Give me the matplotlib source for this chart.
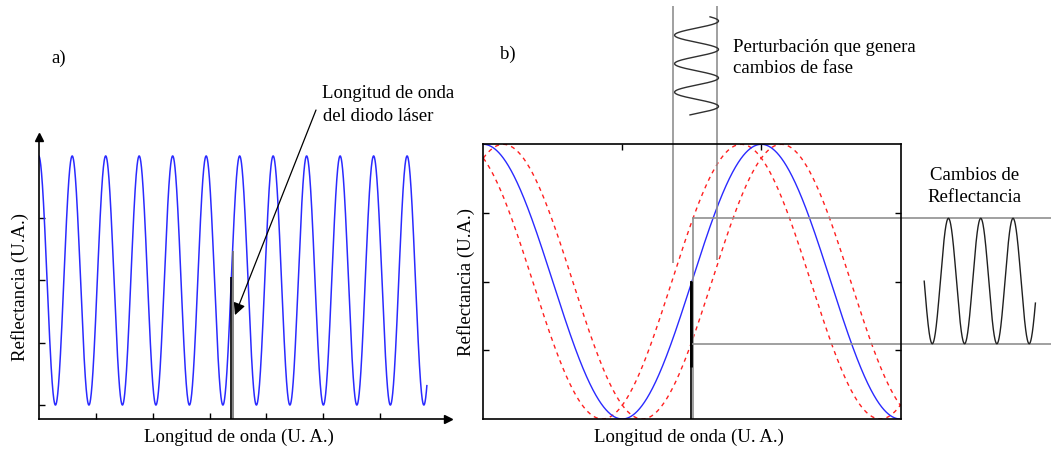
import matplotlib
matplotlib.use('Agg')
import matplotlib.pyplot as plt
import numpy as np

W, H = 1051, 449

plt.rcParams['font.family'] = ['Liberation Serif', 'DejaVu Serif']
plt.rcParams['font.size'] = 13.5

BLUE = '#2a2aff'
RED = '#ff2020'
GRAY = '#909090'

# panel a): reflectance fringes (wavelength in fringe periods)
a_lam_end = 11.59
a_xlim = (0, 12.23)
a_ylim = (-0.056, 1.076)
a_xticks = [1.70, 3.40, 5.10, 6.80, 8.50, 10.20]
a_yticks = [0, 0.25, 0.5, 0.75]
a_laser = 5.755
a_laser_gray_top = 0.62
a_arrow_tip = (5.86, 0.361)

# panel b): one fringe, shifted by the perturbation
b_xlim = (0, 1.5025)
b_shift = 0.072
b_yticks = [0.25, 0.5, 0.75]
b_top_ticks = [0.5, 1.0]
b_laser = 0.751
b_pert_lines = [0.683, 0.842]
b_pert_line_top = 1.503
b_pert_line_bottom = [0.568, 0.579]
b_pert_center, b_pert_amp = 0.767, 0.079
b_pert_y = (1.107, 1.464)
b_pert_period, b_pert_phase0 = 0.1037, 1.449
b_levels = [0.274, 0.7306]
b_level_end = 2.042
b_resp_x = (1.586, 1.986)
b_resp_period, b_resp_trough = 0.1162, 1.615


def px_rect(x0, y0, x1, y1):
    return [x0 / W, 1 - y1 / H, (x1 - x0) / W, (y1 - y0) / H]


fig = plt.figure(figsize=(W / 100, H / 100), dpi=100)

# ---------------- a) ----------------
ax = fig.add_axes(px_rect(38.7, 137, 448.3, 419))
lam = np.linspace(0, a_lam_end, 3000)
ax.plot(lam, 0.5 + 0.5 * np.cos(2 * np.pi * lam), color=BLUE, lw=1.1)
ax.set_xlim(*a_xlim)
ax.set_ylim(*a_ylim)
for s in ['top', 'right']:
    ax.spines[s].set_visible(False)
for s in ['left', 'bottom']:
    ax.spines[s].set_linewidth(1.2)
ax.set_xticks(a_xticks)
ax.set_yticks(a_yticks)
ax.tick_params(direction='in', length=4, width=1, labelbottom=False, labelleft=False)
ax.plot(1, 0, '>', color='k', ms=6, transform=ax.transAxes, clip_on=False)
ax.plot(0, 1, '^', color='k', ms=6, transform=ax.transAxes, clip_on=False)

r_laser = 0.5 + 0.5 * np.cos(2 * np.pi * a_laser)
ax.vlines(a_laser + 0.05, a_ylim[0], a_laser_gray_top, color='#707070', lw=1.2)
ax.vlines(a_laser, a_ylim[0], r_laser, color='k', lw=1.2)
ax.annotate('', xy=a_arrow_tip, xytext=(316, H - 110), textcoords='figure pixels',
            arrowprops=dict(arrowstyle='-|>', color='k', lw=0.9,
                            mutation_scale=18, shrinkA=0, shrinkB=0))
ax.set_xlabel('Longitud de onda (U. A.)')
ax.set_ylabel('Reflectancia (U.A.)')
ax.xaxis.set_label_coords(0.489, -0.064)
ax.yaxis.set_label_coords(-0.046, 0.468)
ax.xaxis.label.set_va('center')
ax.yaxis.label.set_va('center')

fig.text(51 / W, 1 - 58 / H, 'a)', va='center', ha='left')
fig.text(322 / W, 1 - 94 / H, 'Longitud de onda', va='center', ha='left')
fig.text(323 / W, 1 - 116 / H, 'del diodo láser', va='center', ha='left')

# ---------------- b) ----------------
bx = fig.add_axes(px_rect(483.3, 144.3, 901, 419))
x = np.linspace(*b_xlim, 2000)
bx.plot(x, 0.5 + 0.5 * np.cos(2 * np.pi * (x + b_shift)), color=RED, lw=1.0, ls=(0, (3, 3)))
bx.plot(x, 0.5 + 0.5 * np.cos(2 * np.pi * (x - b_shift)), color=RED, lw=1.0, ls=(0, (3, 3)))
bx.plot(x, 0.5 + 0.5 * np.cos(2 * np.pi * x), color=BLUE, lw=1.0)
bx.set_xlim(*b_xlim)
bx.set_ylim(0, 1)
for s in bx.spines.values():
    s.set_linewidth(1.2)
bx.set_yticks(b_yticks)
bx.set_xticks(b_top_ticks)
bx.tick_params(direction='in', length=4, width=1, labelbottom=False, labelleft=False,
               right=True, top=True, bottom=False)
bx.set_xlabel('Longitud de onda (U. A.)')
bx.set_ylabel('Reflectancia (U.A.)')
bx.xaxis.set_label_coords(0.493, -0.066)
bx.yaxis.set_label_coords(-0.042, 0.5)
bx.xaxis.label.set_va('center')
bx.yaxis.label.set_va('center')

# laser line and the two reflectance levels
r_b = 0.5 + 0.5 * np.cos(2 * np.pi * b_laser)
bx.vlines(b_laser + 0.005, 0, b_levels[1], color=GRAY, lw=1.2, clip_on=False)
bx.vlines(b_laser - 0.003, 0, r_b, color='k', lw=1.2)
bx.vlines(b_laser - 0.003, 0.19, r_b, color='k', lw=2.0)
for lv in b_levels:
    bx.hlines(lv, b_laser, b_level_end, color=GRAY, lw=1.2, clip_on=False)

# perturbation
for xl, yb in zip(b_pert_lines, b_pert_line_bottom):
    bx.vlines(xl, yb, b_pert_line_top, color=GRAY, lw=1.2, clip_on=False)
yy = np.linspace(*b_pert_y, 400)
bx.plot(b_pert_center + b_pert_amp * np.cos(2 * np.pi * (yy - b_pert_phase0) / b_pert_period),
        yy, color='#303030', lw=1.0, clip_on=False)

# reflectance response
xr = np.linspace(*b_resp_x, 400)
mid, amp = np.mean(b_levels), (b_levels[1] - b_levels[0]) / 2
bx.plot(xr, mid - amp * np.cos(2 * np.pi * (xr - b_resp_trough) / b_resp_period),
        color='#202020', lw=1.0, clip_on=False)

fig.text(500 / W, 1 - 54 / H, 'b)', va='center', ha='left')
fig.text(733 / W, 1 - 47 / H, 'Perturbación que genera', va='center', ha='left')
fig.text(733 / W, 1 - 69 / H, 'cambios de fase', va='center', ha='left')
fig.text(975 / W, 1 - 175 / H, 'Cambios de', va='center', ha='center')
fig.text(975 / W, 1 - 197 / H, 'Reflectancia', va='center', ha='center')

fig.savefig('out.png', dpi=100)
